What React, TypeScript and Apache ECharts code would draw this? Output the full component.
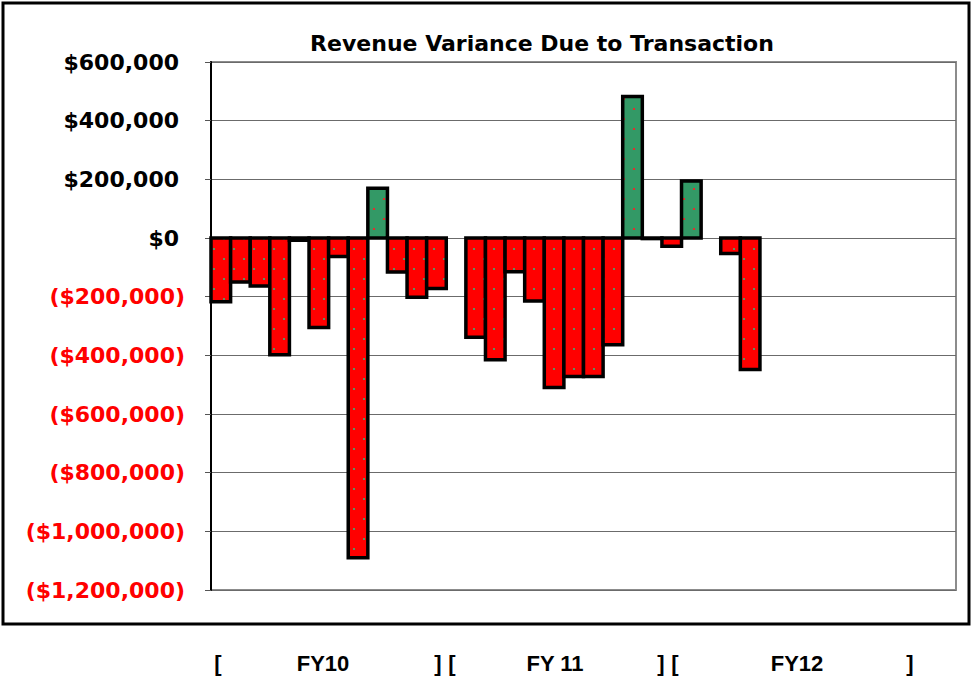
import React, { useEffect, useRef } from "react";
import * as echarts from "echarts";

const months: string[] = Array.from({ length: 38 }, (_, i) => `M${i + 1}`);
const variance: (number | null)[] = [
  -217000, -150000, -164000, -398000, -8000, -305000, -63000, -1090000, 170000, -116000, -202000, -172000,
  null, -338000, -415000, -115000, -215000, -510000, -472000, -472000, -364000, 482000, -2000, -28000,
  194000, null, -53000, -448000,
  null, null, null, null, null, null, null, null, null, null,
];
const yTicks = { min: -1200000, max: 600000, interval: 200000 };
const title = "Revenue Variance Due to Transaction";
const fyLabels = [
  { text: "[", x: 218 }, { text: "FY10", x: 323 }, { text: "]", x: 438 },
  { text: "[", x: 452 }, { text: "FY 11", x: 555 }, { text: "]", x: 661 },
  { text: "[", x: 675 }, { text: "FY12", x: 797 }, { text: "]", x: 910 },
];

const POS = "#339966";
const NEG = "#FF0000";

function makePattern(bg: string, dot: string) {
  const c = document.createElement("canvas");
  c.width = 20;
  c.height = 20;
  const ctx = c.getContext("2d")!;
  ctx.fillStyle = bg;
  ctx.fillRect(0, 0, 20, 20);
  ctx.fillStyle = dot;
  ctx.fillRect(13, 8, 2, 2);
  ctx.fillRect(3, 18, 2, 2);
  return { image: c.toDataURL(), repeat: "repeat", imageWidth: 20, imageHeight: 20 };
}

function fmt(v: number): string {
  const s = "$" + Math.abs(v).toLocaleString("en-US");
  return v < 0 ? `{neg|(${s})}` : `{pos|${s}}`;
}

export default function App() {
  const ref = useRef<HTMLDivElement>(null);
  useEffect(() => {
    if (!ref.current) return;
    const chart = echarts.init(ref.current, null, { renderer: "svg" });
    const negFill = makePattern(NEG, "#5e9060");
    const posFill = makePattern(POS, "#e03030");
    const data = variance
      .map((v, i) => [i, v] as [number, number | null])
      .filter((d) => d[1] !== null);
    const labelFont = { fontFamily: "DejaVu Sans", fontWeight: "bold" as const, fontSize: 22 };
    chart.setOption({
      animation: false,
      backgroundColor: "#ffffff",
      title: {
        text: title,
        left: 537,
        textAlign: "center",
        top: 27,
        textStyle: { fontFamily: "DejaVu Sans", fontWeight: "bold", fontSize: 22, color: "#000" },
      },
      grid: {
        left: 211,
        top: 62,
        right: 16,
        bottom: 89,
        show: true,
        borderColor: "#8c8c8c",
        borderWidth: 2,
        backgroundColor: "transparent",
      },
      xAxis: {
        type: "category",
        data: months,
        axisLine: { show: false },
        axisTick: { show: false },
        axisLabel: { show: false },
        splitLine: { show: false },
      },
      yAxis: {
        type: "value",
        min: yTicks.min,
        max: yTicks.max,
        interval: yTicks.interval,
        axisLine: { show: true, lineStyle: { color: "#000", width: 2 } },
        axisTick: { show: true, length: 6, lineStyle: { color: "#555", width: 1 } },
        splitLine: { show: true, lineStyle: { color: "#6b6b6b", width: 1 } },
        axisLabel: {
          margin: 26,
          formatter: (v: number) => fmt(v),
          rich: {
            pos: { ...labelFont, color: "#000", padding: [0, 6, 0, 0] },
            neg: { ...labelFont, color: "#FF0000" },
          },
        },
      },
      series: [
        {
          type: "custom",
          data,
          encode: { x: 0, y: 1 },
          renderItem: (params: any, api: any) => {
            const idx = api.value(0);
            const v = api.value(1);
            const base = api.coord([idx, 0]);
            const top = api.coord([idx, v]);
            const w = api.size([1, 0])[0];
            return {
              type: "rect",
              shape: {
                x: base[0] - w / 2,
                y: Math.min(base[1], top[1]),
                width: w,
                height: Math.abs(top[1] - base[1]),
              },
              style: {
                fill: v >= 0 ? posFill : negFill,
                stroke: "#000",
                lineWidth: 3.5,
              },
            };
          },
        },
      ],
      graphic: [
        {
          type: "rect",
          shape: { x: 3, y: 3, width: 966, height: 621 },
          style: { fill: "none", stroke: "#000", lineWidth: 3 },
          silent: true,
        },
        ...fyLabels.map((l) => ({
          type: "text",
          x: l.x,
          y: 663,
          style: {
            text: l.text,
            fill: "#000",
            font: "bold 22px 'Liberation Sans', Arial, sans-serif",
            textAlign: "center",
            textVerticalAlign: "middle",
          },
        })),
      ],
    });
    return () => chart.dispose();
  }, []);
  return (
    <div
      ref={ref}
      style={{ position: "fixed", left: 0, top: 0, width: 972, height: 679, background: "#fff" }}
    />
  );
}
